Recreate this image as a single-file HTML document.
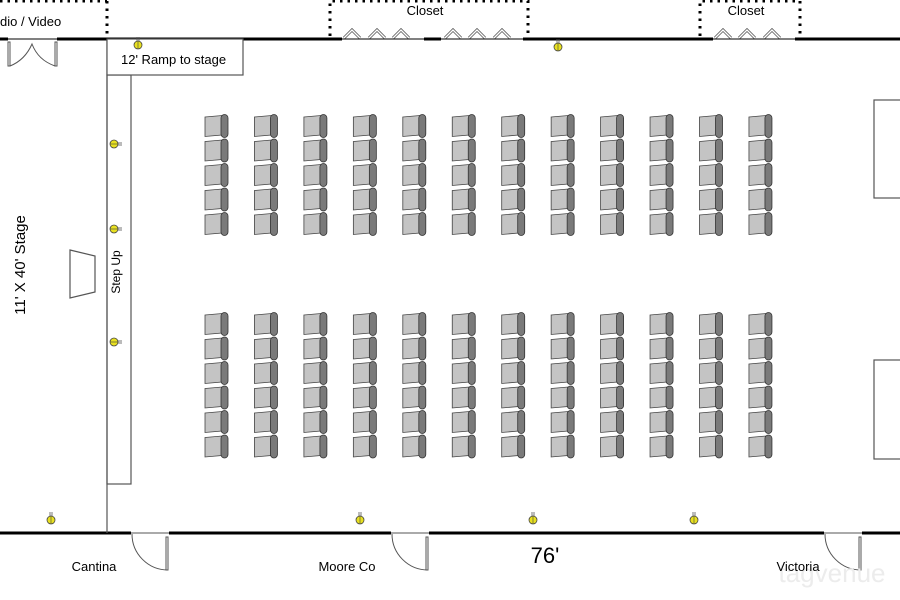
<!DOCTYPE html>
<html><head><meta charset="utf-8"><style>
body{margin:0;background:#fff;}
svg{display:block;font-family:"Liberation Sans",Arial,sans-serif;}
</style></head><body>
<svg id="s" width="900" height="600" viewBox="0 0 900 600" xmlns="http://www.w3.org/2000/svg">
<defs>
<g id="chair">
<path d="M0,2 L17,0.5 L17,20 L0,21.5 Z" fill="#c4c4c4" stroke="#444" stroke-width="0.8"/>
<rect x="16" y="-0.5" width="7" height="23" rx="3.5" fill="#7a7a7a" stroke="#333" stroke-width="0.8"/>
</g>
<g id="light">
<line x1="-1" y1="-8" x2="-1" y2="-3" stroke="#555" stroke-width="0.8"/>
<line x1="1" y1="-8" x2="1" y2="-3" stroke="#555" stroke-width="0.8"/>
<circle r="4" fill="#e8e020" stroke="#444" stroke-width="0.8"/>
<line x1="0" y1="-4" x2="0" y2="4" stroke="#444" stroke-width="0.6"/>
</g>
<g id="bifold">
<path d="M0,0 L8,-8 L16,0" fill="none" stroke="#555" stroke-width="3"/>
<path d="M0,0 L8,-8 L16,0" fill="none" stroke="#fff" stroke-width="1.4"/>
</g>
</defs>
<g fill="none" stroke="#000" stroke-width="3" stroke-dasharray="2.5,5">
<path d="M0,1 L107,1 M107,1 L107,36"/>
<path d="M330,36 L330,1 L528,1 L528,36"/>
<path d="M700,36 L700,1 L800,1 L800,36"/>
</g>
<text x="0" y="26" font-size="13">dio / Video</text>
<text x="425" y="15" font-size="13" text-anchor="middle">Closet</text>
<text x="746" y="15" font-size="13" text-anchor="middle">Closet</text>
<g stroke="#000" stroke-width="3">
<line x1="0" y1="39" x2="8" y2="39"/>
<line x1="57" y1="39" x2="342" y2="39"/>
<line x1="424" y1="39" x2="441" y2="39"/>
<line x1="523" y1="39" x2="713" y2="39"/>
<line x1="795" y1="39" x2="900" y2="39"/>
</g>
<g stroke="#000" stroke-width="1">
<line x1="342" y1="39" x2="424" y2="39"/>
<line x1="441" y1="39" x2="523" y2="39"/>
<line x1="713" y1="39" x2="795" y2="39"/>
<line x1="8" y1="39" x2="57" y2="39"/>
</g>
<use href="#bifold" x="344" y="38"/><use href="#bifold" x="369" y="38"/><use href="#bifold" x="393" y="38"/>
<use href="#bifold" x="445" y="38"/><use href="#bifold" x="469" y="38"/><use href="#bifold" x="494" y="38"/>
<use href="#bifold" x="715" y="38"/><use href="#bifold" x="739" y="38"/><use href="#bifold" x="764" y="38"/>
<g fill="none" stroke="#555" stroke-width="1">
<rect x="8" y="42" width="2" height="24" fill="#fff"/>
<rect x="55" y="42" width="2" height="24" fill="#fff"/>
<path d="M10,66 Q25,60 32,44 Q38,60 55,66"/>
</g>
<g stroke="#000" stroke-width="3">
<line x1="0" y1="533" x2="131" y2="533"/>
<line x1="169" y1="533" x2="391" y2="533"/>
<line x1="429" y1="533" x2="824" y2="533"/>
<line x1="862" y1="533" x2="900" y2="533"/>
</g>
<g fill="none" stroke="#555" stroke-width="1">
<line x1="131" y1="533" x2="169" y2="533"/>
<line x1="391" y1="533" x2="429" y2="533"/>
<line x1="824" y1="533" x2="862" y2="533"/>
<path d="M132,534 A36,36 0 0 0 168,570"/><rect x="166" y="537" width="2" height="33" fill="#fff"/>
<path d="M392,534 A36,36 0 0 0 428,570"/><rect x="426" y="537" width="2" height="33" fill="#fff"/>
<path d="M825,534 A36,36 0 0 0 861,570"/><rect x="859" y="537" width="2" height="33" fill="#fff"/>
</g>
<text x="832" y="582" font-size="26" fill="#ececec" text-anchor="middle">tagvenue</text>
<text x="94" y="571" font-size="13" text-anchor="middle">Cantina</text>
<text x="347" y="571" font-size="13" text-anchor="middle">Moore Co</text>
<text x="798" y="571" font-size="13" text-anchor="middle">Victoria</text>
<text x="545" y="563" font-size="22" text-anchor="middle">76'</text>
<g fill="none" stroke="#555" stroke-width="1.2">
<line x1="107" y1="39" x2="107" y2="533"/>
<rect x="107" y="75" width="24" height="409"/>
<rect x="107" y="39" width="136" height="36" fill="#fff"/>
<path d="M70,250 L95,256 L95,292 L70,298 Z"/>
<rect x="874" y="100" width="30" height="98"/>
<rect x="874" y="360" width="30" height="99"/>
</g>
<text x="121" y="64" font-size="13">12' Ramp to stage</text>
<text transform="translate(25,265) rotate(-90)" font-size="15" text-anchor="middle">11' X 40' Stage</text>
<text transform="translate(120,272) rotate(-90)" font-size="12" text-anchor="middle">Step Up</text>
<use href="#light" x="138" y="45"/>
<use href="#light" transform="translate(114,144) rotate(90)"/>
<use href="#light" transform="translate(114,229) rotate(90)"/>
<use href="#light" transform="translate(114,342) rotate(90)"/>
<use href="#light" x="558" y="47"/>
<use href="#light" x="51" y="520"/>
<use href="#light" x="360" y="520"/>
<use href="#light" x="533" y="520"/>
<use href="#light" x="694" y="520"/>
<g id="chairs"></g>
</svg>
<script>
var g=document.getElementById('chairs'),ns='http://www.w3.org/2000/svg';
for(var c=0;c<12;c++){var x=205+c*49.45;
 var ys=[115,139.5,164,188.5,213,313,337.5,362,386.5,411,435.5];
 ys.forEach(function(y){var u=document.createElementNS(ns,'use');u.setAttribute('href','#chair');u.setAttribute('x',x);u.setAttribute('y',y);g.appendChild(u);});}
</script>
</body></html>
